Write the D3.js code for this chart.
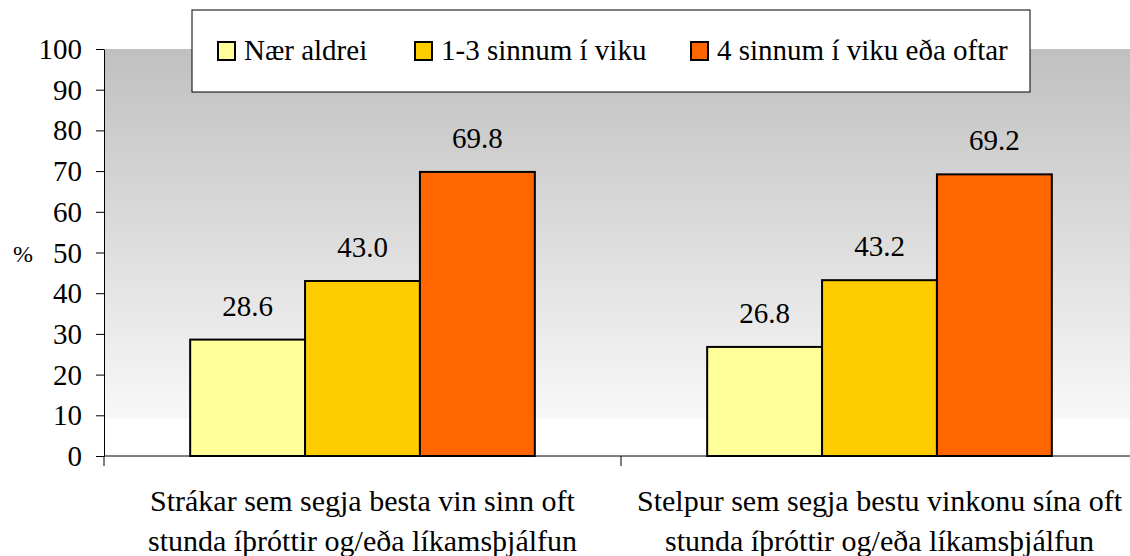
<!DOCTYPE html>
<html>
<head>
<meta charset="utf-8">
<script src="https://cdn.jsdelivr.net/npm/d3@7"></script>
</head>
<body style="margin:0">
<div id="chart"></div>
<script>
// data
var categories = [
  ["Strákar sem segja besta vin sinn oft", "stunda íþróttir og/eða líkamsþjálfun"],
  ["Stelpur sem segja bestu vinkonu sína oft", "stunda íþróttir og/eða líkamsþjálfun"]
];
var seriesNames = ["Nær aldrei", "1-3 sinnum í viku", "4 sinnum í viku eða oftar"];
var seriesColors = ["#FFFF99", "#FFCC00", "#FF6600"];
var naerAldrei = [28.6, 26.8];
var einTilThrjar = [43.0, 43.2];
var fjorarOgOftar = [69.8, 69.2];
var yTicks = [0, 10, 20, 30, 40, 50, 60, 70, 80, 90, 100];

var width = 1130, height = 556;
var plotLeft = 104, plotRight = 1138, plotTop = 49, plotBottom = 456;
var serif = "'Liberation Serif'";

var svg = d3.select('#chart').append('svg')
    .attr('width', width)
    .attr('height', height);

function label(sel, size) {
  return sel.style('font-family', serif).style('font-size', size + 'px').attr('fill', '#000');
}

// background gradient of the plot area
var defs = svg.append('defs');
var grad = defs.append('linearGradient')
    .attr('id', 'bg')
    .attr('x1', 0).attr('y1', 0).attr('x2', 0).attr('y2', 1);
grad.append('stop').attr('offset', '0%').attr('stop-color', '#c0c0c0');
grad.append('stop').attr('offset', '91%').attr('stop-color', '#f8f8f8');
grad.append('stop').attr('offset', '91%').attr('stop-color', '#ffffff');
grad.append('stop').attr('offset', '100%').attr('stop-color', '#ffffff');

svg.append('rect')
    .attr('x', plotLeft).attr('y', plotTop)
    .attr('width', plotRight - plotLeft).attr('height', plotBottom - plotTop)
    .attr('fill', 'url(#bg)');

var y = d3.scaleLinear().domain([0, 100]).range([plotBottom, plotTop]);
var x0 = d3.scaleBand().domain(d3.range(categories.length)).range([plotLeft, plotRight]).padding(0);
var x1 = d3.scaleBand().domain(d3.range(seriesNames.length))
    .range([0, x0.bandwidth()]).paddingInner(0).paddingOuter(0.75);

var data = [naerAldrei, einTilThrjar, fjorarOgOftar];

// bars
categories.forEach(function(c, ci) {
  var g = svg.append('g').attr('transform', 'translate(' + x0(ci) + ',0)');
  data.forEach(function(vals, si) {
    g.append('rect')
        .attr('x', x1(si))
        .attr('y', y(vals[ci]))
        .attr('width', x1.bandwidth())
        .attr('height', y(0) - y(vals[ci]))
        .attr('fill', seriesColors[si])
        .attr('stroke', '#000')
        .attr('stroke-width', 2);
    label(g.append('text'), 29)
        .attr('x', x1(si) + x1.bandwidth() / 2)
        .attr('y', y(vals[ci]) - 24)
        .attr('text-anchor', 'middle')
        .text(vals[ci].toFixed(1));
  });
});

// y axis
var yAxis = svg.append('g')
    .attr('transform', 'translate(' + plotLeft + ',0)')
    .call(d3.axisLeft(y).tickValues(yTicks).tickSize(8).tickPadding(14).tickSizeOuter(0));
yAxis.select('.domain').attr('stroke', '#000');
yAxis.selectAll('.tick line').attr('stroke', '#000');
label(yAxis.selectAll('.tick text'), 29).attr('dy', '0.33em');

label(svg.append('text'), 24)
    .attr('x', 23).attr('y', 262)
    .attr('text-anchor', 'middle')
    .text('%');

// x axis
svg.append('line')
    .attr('x1', plotLeft).attr('x2', plotRight)
    .attr('y1', plotBottom).attr('y2', plotBottom)
    .attr('stroke', '#000');
d3.range(categories.length + 1).forEach(function(i) {
  var xx = i < categories.length ? x0(i) : plotRight;
  svg.append('line')
      .attr('x1', xx).attr('x2', xx)
      .attr('y1', plotBottom).attr('y2', plotBottom + 10)
      .attr('stroke', '#000');
});

categories.forEach(function(c, ci) {
  var t = label(svg.append('text'), 30).attr('text-anchor', 'middle');
  c.forEach(function(line, li) {
    t.append('tspan')
        .attr('x', x0(ci) + x0.bandwidth() / 2)
        .attr('y', 511 + li * 40)
        .text(line);
  });
});

// legend
var legend = svg.append('g');
legend.append('rect')
    .attr('x', 192).attr('y', 10)
    .attr('width', 838).attr('height', 82)
    .attr('fill', '#fff')
    .attr('stroke', '#000')
    .attr('stroke-width', 1);
var legendX = [218, 415, 691];
seriesNames.forEach(function(name, i) {
  legend.append('rect')
      .attr('x', legendX[i]).attr('y', 42)
      .attr('width', 17).attr('height', 18)
      .attr('fill', seriesColors[i])
      .attr('stroke', '#000')
      .attr('stroke-width', 2);
  label(legend.append('text'), 29)
      .attr('x', legendX[i] + 26).attr('y', 60)
      .text(name);
});
</script>
</body>
</html>
